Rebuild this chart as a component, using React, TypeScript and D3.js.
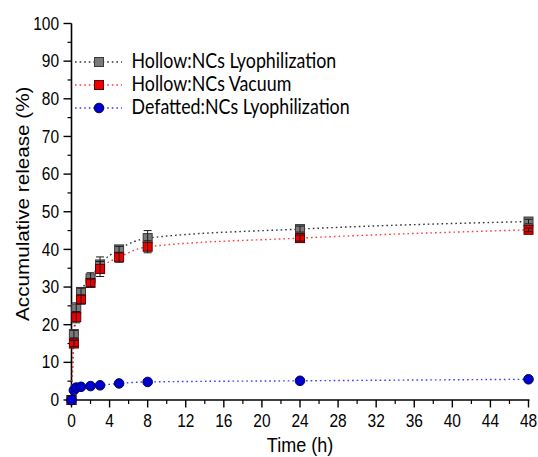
import React from "react";
import * as d3 from "d3";

const times = [0, 0.25, 0.5, 1, 2, 3, 5, 8, 24, 48];
const lyoValues = [0, 17.5, 24.3, 28.7, 32.3, 36, 40, 43, 45.4, 47.4];
const lyoErrors = [0, 1, 1.5, 1, 1.5, 2, 0.8, 2, 0.8, 0.6];
const vacValues = [0, 15, 22, 26.7, 31.1, 34.8, 37.9, 40.7, 43, 45.2];
const vacErrors = [0, 0.8, 1.5, 1.2, 1, 2, 1.3, 1.6, 0.8, 0.5];
const defValues = [0, 2.6, 3.3, 3.5, 3.7, 3.9, 4.4, 4.8, 5.1, 5.5];
const defErrors = [0, 0.2, 0.2, 0.2, 0.2, 0.2, 0.2, 0.2, 0.2, 0.2];
const seriesNames = [
  "Hollow:NCs Lyophilization",
  "Hollow:NCs Vacuum",
  "Defatted:NCs Lyophilization",
];
const xTicks = [0, 4, 8, 12, 16, 20, 24, 28, 32, 36, 40, 44, 48];
const yTicks = [0, 10, 20, 30, 40, 50, 60, 70, 80, 90, 100];

const W = 538;
const H = 457;
const SY = 1.15;

export default function App() {
  const x = d3.scaleLinear().domain([0, 48]).range([71.5, 528.5]);
  const y = d3.scaleLinear().domain([0, 100]).range([400, 23.5]);

  const series = [
    { name: seriesNames[0], values: lyoValues, errors: lyoErrors, line: "#333333", fill: "#7a7a7a", stroke: "#3a3a3a", shape: "square" },
    { name: seriesNames[1], values: vacValues, errors: vacErrors, line: "#ff3b3b", fill: "#ee0000", stroke: "#5a0000", shape: "square" },
    { name: seriesNames[2], values: defValues, errors: defErrors, line: "#3b3bff", fill: "#0000cc", stroke: "#00005a", shape: "circle" },
  ];

  const lineGen = d3
    .line<[number, number]>()
    .x((d) => x(d[0]))
    .y((d) => y(d[1]))
    .curve(d3.curveMonotoneX);

  const xMinor = d3.range(0, 49, 2).filter((v) => v % 4 !== 0);
  const yMinor = d3.range(5, 100, 10);

  const marker = (s: any, cx: number, cy: number, key: string) =>
    s.shape === "square" ? (
      <rect key={key} x={cx - 4.5} y={cy - 4.5} width={9} height={9} fill={s.fill} stroke={s.stroke} strokeWidth={1} />
    ) : (
      <circle key={key} cx={cx} cy={cy} r={4.8} fill={s.fill} stroke={s.stroke} strokeWidth={1} />
    );

  const legendY = [62, 85, 108];

  return (
    <svg width={W} height={H} style={{ position: "absolute", left: 0, top: 0, background: "#fff" }}>
      {/* axes */}
      <line x1={x(0)} x2={x(0)} y1={y(100)} y2={y(0)} stroke="#000" strokeWidth={1.6} />
      <line x1={x(0)} x2={x(48) + 1} y1={y(0)} y2={y(0)} stroke="#000" strokeWidth={1.6} />
      {yTicks.map((t) => (
        <g key={"yt" + t}>
          <line x1={x(0) - 8} x2={x(0)} y1={y(t)} y2={y(t)} stroke="#000" strokeWidth={1.4} />
          <g transform={`translate(${x(0) - 12.5},${y(t)}) scale(1,${SY})`}>
            <text x={0} y={5.3} textAnchor="end" fontFamily="Liberation Sans, Arial, sans-serif" fontSize={15.5} fill="#000">
              {t}
            </text>
          </g>
        </g>
      ))}
      {yMinor.map((t) => (
        <line key={"ym" + t} x1={x(0) - 4} x2={x(0)} y1={y(t)} y2={y(t)} stroke="#000" strokeWidth={1.2} />
      ))}
      {xTicks.map((t) => (
        <g key={"xt" + t}>
          <line x1={x(t)} x2={x(t)} y1={y(0)} y2={y(0) + 7.5} stroke="#000" strokeWidth={1.4} />
          <g transform={`translate(${x(t)},${y(0) + 27}) scale(1,${SY})`}>
            <text x={0} y={0} textAnchor="middle" fontFamily="Liberation Sans, Arial, sans-serif" fontSize={15.5} fill="#000">
              {t}
            </text>
          </g>
        </g>
      ))}
      {xMinor.map((t) => (
        <line key={"xm" + t} x1={x(t)} x2={x(t)} y1={y(0)} y2={y(0) + 4} stroke="#000" strokeWidth={1.2} />
      ))}
      {/* axis titles */}
      <g transform={`translate(${(x(0) + x(48)) / 2},452) scale(1,${SY})`}>
        <text textAnchor="middle" fontFamily="Liberation Sans, Arial, sans-serif" fontSize={18} fill="#000">
          Time (h)
        </text>
      </g>
      <g transform={`translate(29,${(y(0) + y(100)) / 2 - 8}) scale(1,${SY}) rotate(-90)`}>
        <text textAnchor="middle" fontFamily="Liberation Sans, Arial, sans-serif" fontSize={18} fill="#000">
          Accumulative release (%)
        </text>
      </g>
      {/* lines */}
      {series.map((s, i) => (
        <path
          key={"l" + i}
          d={lineGen(times.map((t, j) => [t, s.values[j]] as [number, number])) || ""}
          fill="none"
          stroke={s.line}
          strokeWidth={1.4}
          strokeDasharray="1.6 3"
        />
      ))}
      {/* markers with error bars */}
      {series.map((s, i) => (
        <g key={"m" + i}>
          {times.map((t, j) => marker(s, x(t), y(s.values[j]), "mk" + j))}
          {times.map((t, j) =>
            s.errors[j] > 0.3 ? (
              <g key={"e" + j} stroke="#1a1a1a" strokeWidth={1}>
                <line x1={x(t)} x2={x(t)} y1={y(s.values[j] + s.errors[j])} y2={y(s.values[j] - s.errors[j])} />
                <line x1={x(t) - 4} x2={x(t) + 4} y1={y(s.values[j] + s.errors[j])} y2={y(s.values[j] + s.errors[j])} />
                <line x1={x(t) - 4} x2={x(t) + 4} y1={y(s.values[j] - s.errors[j])} y2={y(s.values[j] - s.errors[j])} />
              </g>
            ) : null
          )}
        </g>
      ))}
      {/* legend */}
      {series.map((s, i) => (
        <g key={"lg" + i}>
          <line x1={75} x2={122} y1={legendY[i]} y2={legendY[i]} stroke={s.line} strokeWidth={1.4} strokeDasharray="1.6 3" />
          {marker(s, 99, legendY[i], "lm")}
          <g transform={`translate(131.5,${legendY[i]}) scale(1,${SY})`}>
            <text x={0} y={5.6} fontFamily="Lato, Open Sans, sans-serif" fontSize={17.8} fill="#000">
              {s.name}
            </text>
          </g>
        </g>
      ))}
    </svg>
  );
}
